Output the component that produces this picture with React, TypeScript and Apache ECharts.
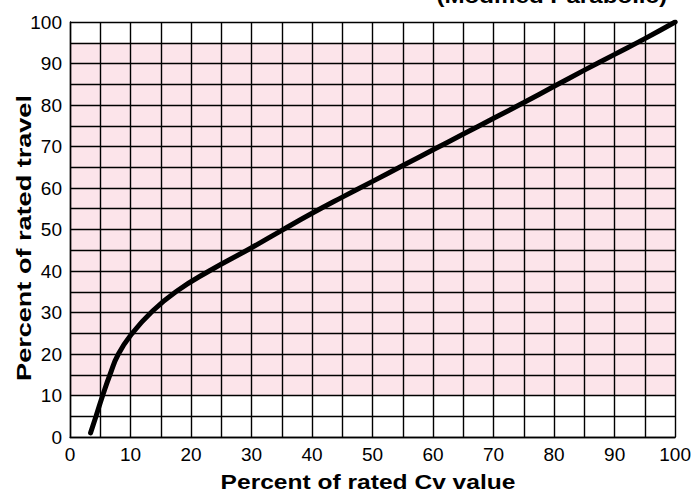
import React, { useEffect, useRef } from "react";
import * as echarts from "echarts";

const cvPercent = [3.4, 4.3, 5.4, 6.6, 8.0, 10.3, 13.4, 17.5, 23, 30, 35, 40, 45, 50, 55, 60, 65, 70, 75, 80, 85, 90, 95, 100];
const travelPercent = [1, 5, 10, 15, 20, 25, 30, 35, 40, 45.6, 49.8, 53.9, 57.8, 61.6, 65.4, 69.2, 73.0, 76.8, 80.6, 84.5, 88.4, 92.2, 96.0, 100];
const bandRange = [10, 95];
const titleText = "(Modified Parabolic)";
const xName = "Percent of rated Cv value";
const yName = "Percent of rated travel";

const FONT = '"Liberation Sans", Arial, Helvetica, sans-serif';

export default function App() {
  const ref = useRef<HTMLDivElement>(null);
  useEffect(() => {
    if (!ref.current) return;
    const chart = echarts.init(ref.current, undefined, { renderer: "svg" });
    const gridLine = { color: "#000", width: 1.4 };
    const axisCommon = {
      type: "value",
      min: 0,
      max: 100,
      interval: 10,
      z: 3,
      axisLine: { show: true, lineStyle: { color: "#000", width: 1.4 } },
      axisTick: { show: false },
      minorTick: { show: false, splitNumber: 2 },
      splitLine: { show: true, lineStyle: gridLine },
      minorSplitLine: { show: true, lineStyle: gridLine },
      axisLabel: { color: "#000", fontSize: 19, fontFamily: FONT, margin: 8 },
    };
    chart.setOption({
      animation: false,
      backgroundColor: "#fff",
      grid: { left: 70, right: 18, top: 22, bottom: 56, containLabel: false },
      xAxis: { ...axisCommon },
      yAxis: { ...axisCommon },
      graphic: [
        {
          type: "text",
          x: 667,
          y: -4,
          scaleX: 1.15,
          style: { text: titleText, font: `bold 21px ${FONT}`, fill: "#000", textAlign: "right", textVerticalAlign: "middle" },
        },
        {
          type: "text",
          x: 368,
          y: 482,
          scaleX: 1.17,
          style: { text: xName, font: `bold 21px ${FONT}`, fill: "#000", textAlign: "center", textVerticalAlign: "middle" },
        },
        {
          type: "text",
          x: 24,
          y: 238,
          rotation: Math.PI / 2,
          scaleX: 1.29,
          style: { text: yName, font: `bold 21px ${FONT}`, fill: "#000", textAlign: "center", textVerticalAlign: "middle" },
        },
      ],
      series: [
        {
          type: "line",
          z: 1,
          data: [],
          silent: true,
          markArea: {
            silent: true,
            itemStyle: { color: "#fce4ea" },
            data: [[{ yAxis: bandRange[0] }, { yAxis: bandRange[1] }]],
          },
        },
        {
          type: "line",
          z: 5,
          data: cvPercent.map((x, i) => [x, travelPercent[i]]),
          showSymbol: false,
          smooth: 0.5,
          lineStyle: { color: "#000", width: 5, cap: "round" },
        },
      ],
    });
    return () => chart.dispose();
  }, []);
  return <div ref={ref} style={{ position: "absolute", left: 0, top: 0, width: 694, height: 493 }} />;
}
